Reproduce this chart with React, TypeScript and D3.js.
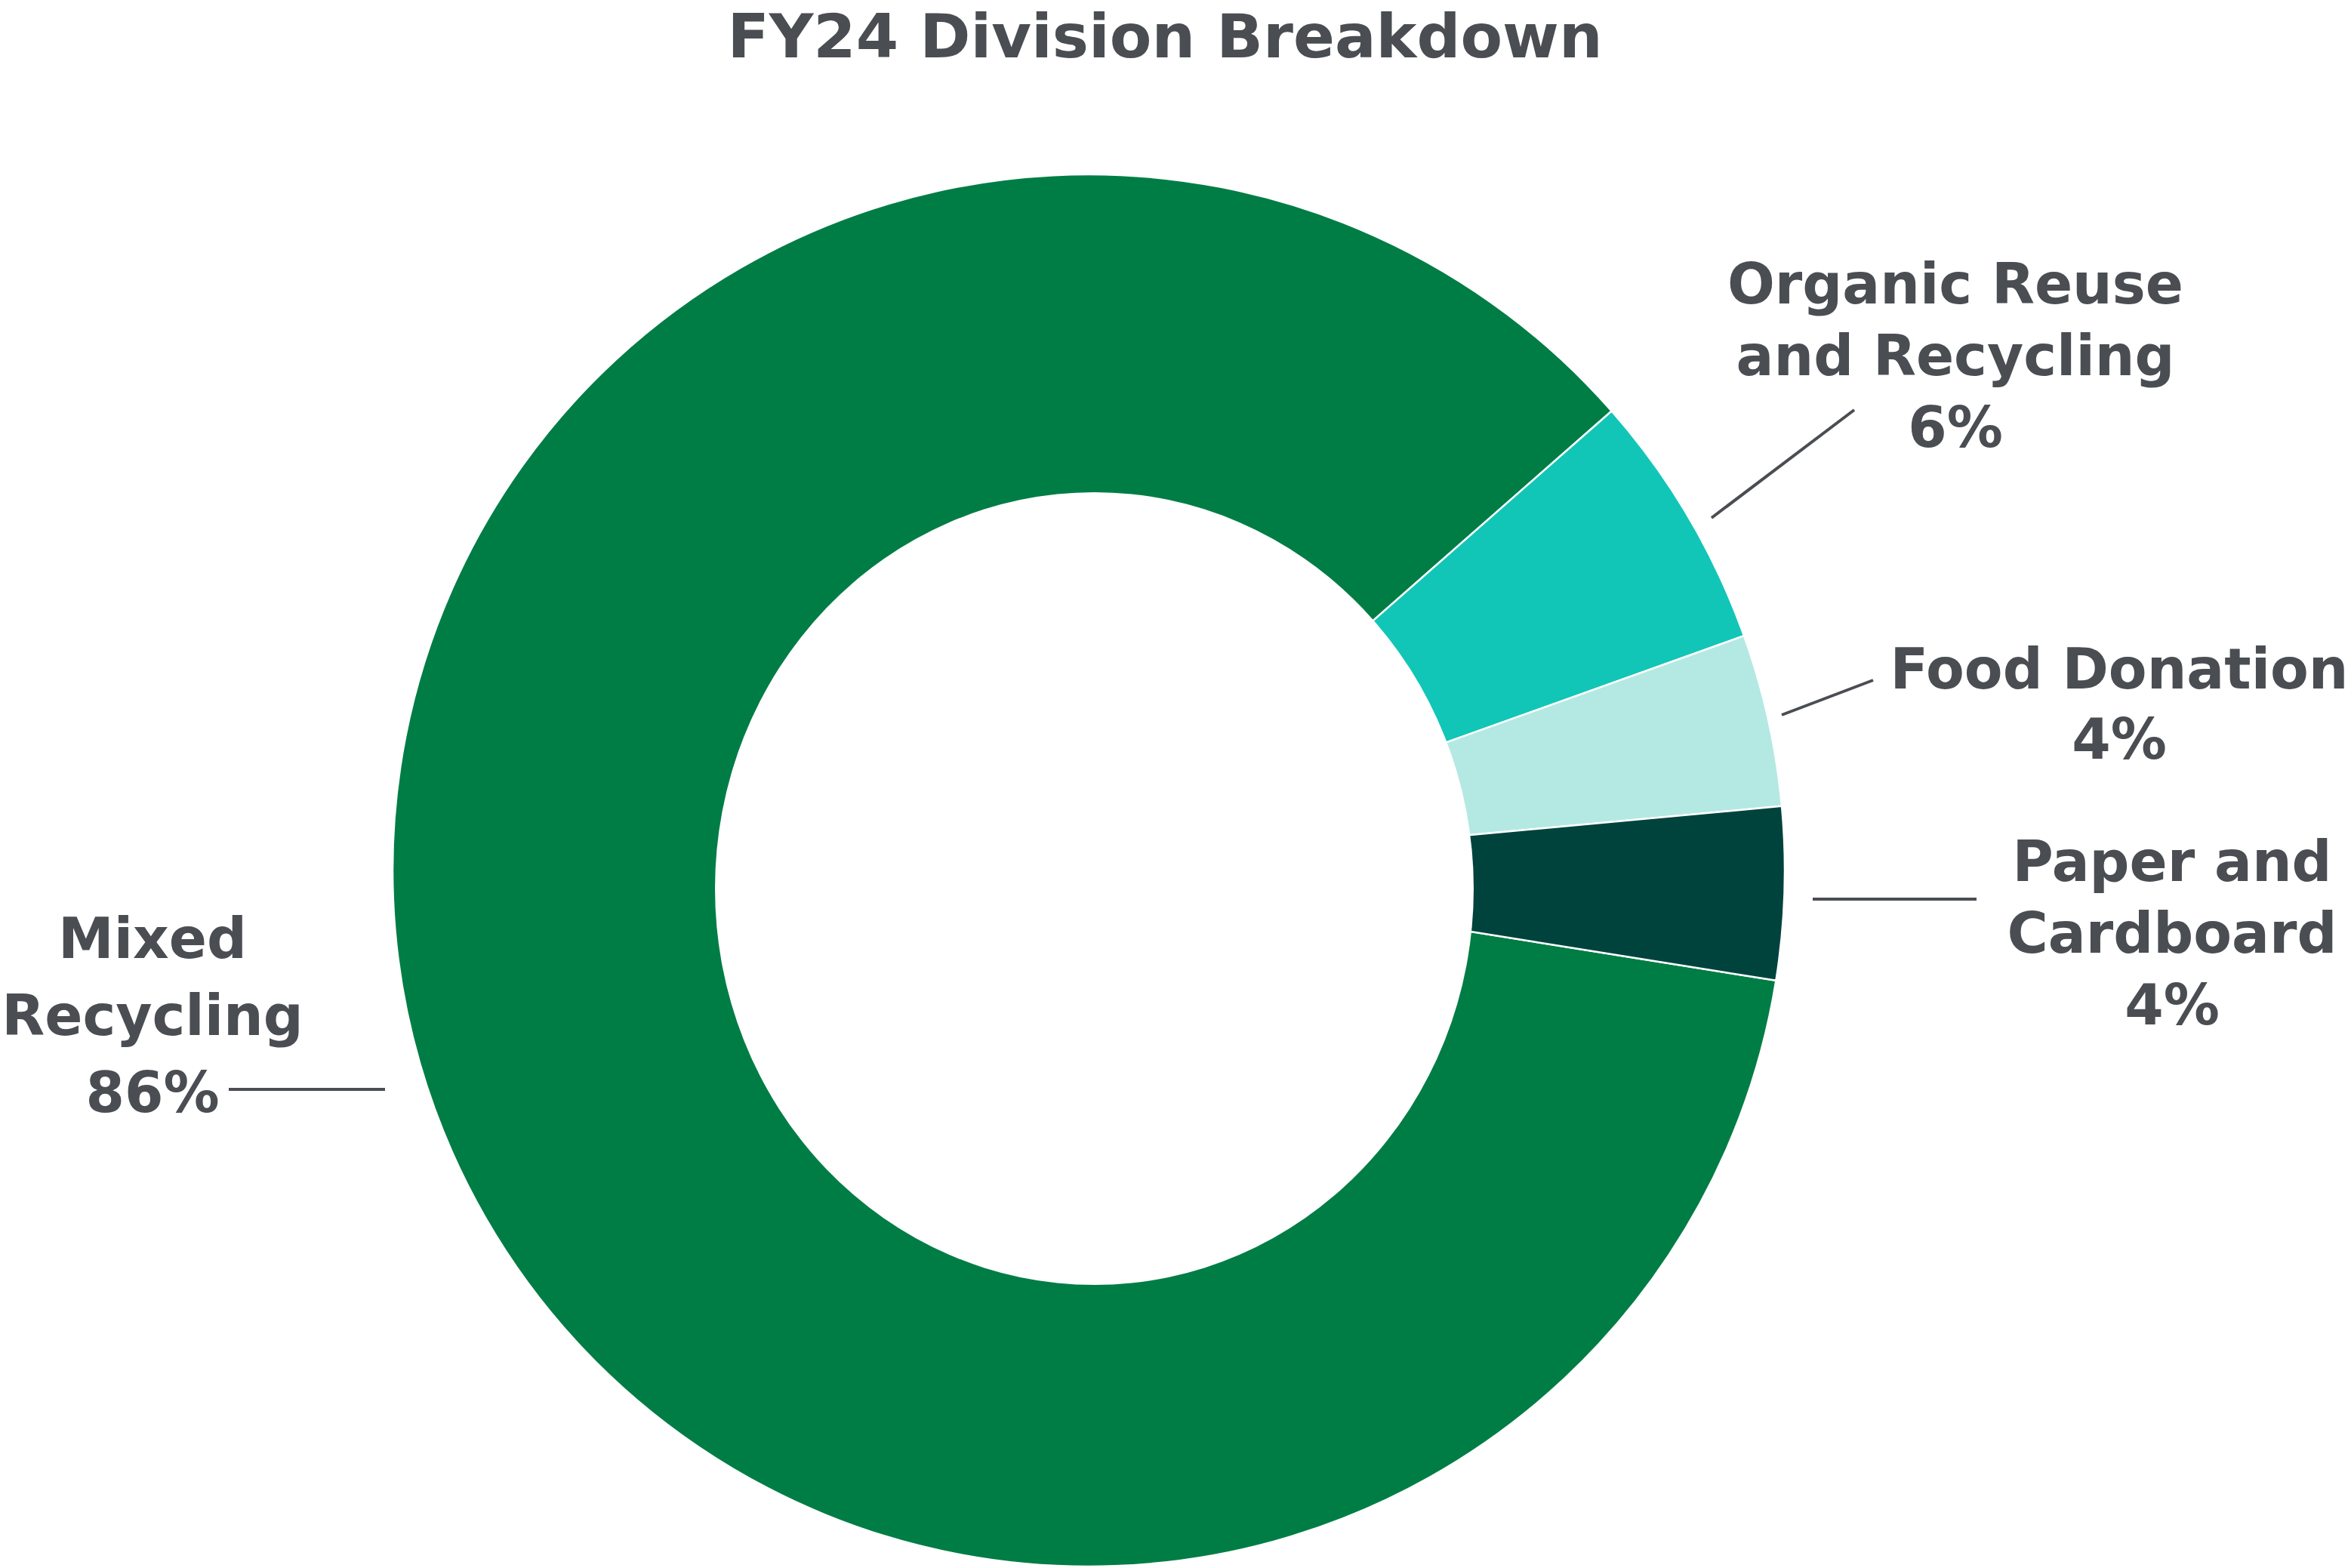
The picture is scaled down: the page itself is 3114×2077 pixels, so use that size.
import React from "react";
import * as d3 from "d3";

const categories = ["Mixed Recycling", "Organic Reuse and Recycling", "Food Donation", "Paper and Cardboard"];
const values = [86, 6, 4, 4];
const labelLines = [["Mixed", "Recycling", "86%"], ["Organic Reuse", "and Recycling", "6%"], ["Food Donation", "4%"], ["Paper and", "Cardboard", "4%"]];
const colors = ["#007D45", "#12C6B7", "#B4E9E3", "#00433D"];
const title = "FY24 Division Breakdown";

const W = 3114;
const H = 2077;
const CX = 1442;
const CY = 1153;
const R = 922;
const START_DEG = 99.1;
const TEXT = "#4A4D52";
const FONT = "'DejaVu Sans', sans-serif";

// label block layout: center x, first baseline y, line step
const labelPos = [
  { x: 202, y: 1269, step: 102 },
  { x: 2590, y: 402, step: 95 },
  { x: 2807, y: 912, step: 93 },
  { x: 2877, y: 1167, step: 95 },
];
const leaders = [
  [[303, 1443], [510, 1443]],
  [[2267, 686], [2456, 543]],
  [[2360, 947], [2481, 901]],
  [[2401, 1191], [2618, 1191]],
];

export default function App() {
  const start = (START_DEG * Math.PI) / 180;
  const pie = d3.pie<number>().sort(null).value((d) => d).startAngle(start).endAngle(start + 2 * Math.PI);
  const arcs = pie(values);
  const arc = d3.arc<d3.PieArcDatum<number>>().innerRadius(0).outerRadius(R);
  const line = d3.line();

  return (
    <svg width={W} height={H} style={{ position: "absolute", left: 0, top: 0, display: "block", background: "#fff" }}>
      <text x={1543} y={76} textAnchor="middle" fontFamily={FONT} fontWeight="bold" fontSize={81} fill={TEXT}>
        {title}
      </text>
      <g transform={`translate(${CX},${CY})`}>
        {arcs.map((a, i) => (
          <path key={categories[i]} d={arc(a) || ""} fill={colors[i]} stroke="#fff" strokeWidth={2.5} strokeLinejoin="round" />
        ))}
      </g>
      <ellipse cx={1449.5} cy={1177} rx={502.5} ry={525} fill="#fff" />
      {leaders.map((l, i) => (
        <path key={"l" + i} d={line(l as [number, number][]) || ""} stroke={TEXT} strokeWidth={4} fill="none" />
      ))}
      {labelLines.map((lines, i) => (
        <text key={"t" + i} textAnchor="middle" fontFamily={FONT} fontWeight="bold" fontSize={74} fill={TEXT}>
          {lines.map((s, j) => (
            <tspan key={j} x={labelPos[i].x} y={labelPos[i].y + j * labelPos[i].step}>
              {s}
            </tspan>
          ))}
        </text>
      ))}
    </svg>
  );
}
